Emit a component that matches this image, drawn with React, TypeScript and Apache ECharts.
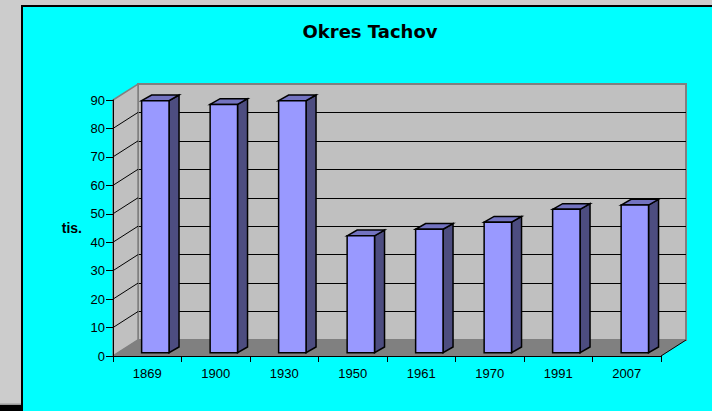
import React, { useEffect, useRef } from "react";
import * as echarts from "echarts";

// ---- data ----
const categories = ["1869", "1900", "1930", "1950", "1961", "1970", "1991", "2007"];
const population = [88.6, 87.3, 88.6, 41.1, 43.4, 45.9, 50.4, 51.9];
const yMin = 0;
const yMax = 90;
const yStep = 10;
const yTicks = [0, 10, 20, 30, 40, 50, 60, 70, 80, 90];
const titleText = "Okres Tachov";
const yName = "tis.";

// ---- layout / style ----
const W = 712;
const H = 411;
const FRONT = { left: 113, top: 100, width: 548, height: 256 };
const DX = 25; // wall depth
const DY = -16;
const BAR_LIFT = 3.3;
const BAR_DX = 10;
const BAR_DY = -5.7;
const FONT = "'Liberation Sans', Arial, sans-serif";

export default function App() {
  const ref = useRef<HTMLDivElement>(null);

  useEffect(() => {
    if (!ref.current) return;
    const chart = echarts.init(ref.current, undefined, { renderer: "svg" });

    const wallsRender = (params: any, api: any) => {
      const cs = params.coordSys;
      const x0 = cs.x;
      const x1 = cs.x + cs.width;
      const yT = cs.y;
      const yB = cs.y + cs.height;
      const children: any[] = [
        {
          type: "polygon",
          shape: { points: [[x0, yT], [x0 + DX, yT + DY], [x0 + DX, yB + DY], [x0, yB]] },
          style: { fill: "#c0c0c0", stroke: "#808080", lineWidth: 1.5 },
        },
        {
          type: "polygon",
          shape: { points: [[x0, yB], [x0 + DX, yB + DY], [x1 + DX, yB + DY], [x1, yB]] },
          style: { fill: "#808080", stroke: "#808080", lineWidth: 0.5 },
        },
        {
          type: "line",
          shape: { x1: x1, y1: yB, x2: x1 + DX, y2: yB + DY },
          style: { stroke: "#000", lineWidth: 1 },
        },
      ];
      yTicks.forEach((v) => {
        if (v === yMin || v === yMax) return;
        const y = api.coord([0, v])[1];
        children.push({
          type: "line",
          shape: { x1: x0, y1: y, x2: x0 + DX, y2: y + DY },
          style: { stroke: "#000", lineWidth: 1 },
        });
      });
      return { type: "group", children };
    };

    const barRender = (params: any, api: any) => {
      const i = api.value(0);
      const v = api.value(1);
      const b = api.coord([i, 0]);
      const t = api.coord([i, v]);
      const band = api.size([1, 0])[0];
      const w = band * 0.4;
      const cx = b[0] + band * 0.118;
      const xl = cx - w / 2;
      const xr = cx + w / 2;
      const yb = b[1] - BAR_LIFT;
      const yt = t[1] - BAR_LIFT;
      const stroke = { stroke: "#000", lineWidth: 1.5, lineJoin: "miter" };
      return {
        type: "group",
        children: [
          {
            type: "polygon",
            shape: { points: [[xr, yt], [xr + BAR_DX, yt + BAR_DY], [xr + BAR_DX, yb + BAR_DY], [xr, yb]] },
            style: { fill: "#4d4d80", ...stroke },
          },
          {
            type: "polygon",
            shape: { points: [[xl, yt], [xl + BAR_DX, yt + BAR_DY], [xr + BAR_DX, yt + BAR_DY], [xr, yt]] },
            style: { fill: "#7373c0", ...stroke },
          },
          {
            type: "polygon",
            shape: { points: [[xl, yt], [xr, yt], [xr, yb], [xl, yb]] },
            style: { fill: "#9999ff", ...stroke },
          },
        ],
      };
    };

    const option: any = {
      animation: false,
      backgroundColor: "#cccccc",
      title: {
        text: titleText,
        left: 370,
        top: 22,
        padding: 0,
        textAlign: "center",
        textStyle: { fontFamily: "'DejaVu Sans', sans-serif", fontWeight: "bold", fontSize: 18, color: "#000" },
      },
      graphic: {
        elements: [
          {
            type: "rect",
            z: -10,
            shape: { x: 22, y: 6, width: 700, height: 420 },
            style: { fill: "#00ffff", stroke: "#000", lineWidth: 2 },
          },
          {
            type: "rect",
            z: -10,
            shape: { x: 0, y: 405, width: 21, height: 6 },
            style: { fill: "#000" },
          },
          {
            type: "rect",
            z: -10,
            shape: { x: 0, y: 403.5, width: 21, height: 1.5 },
            style: { fill: "#999" },
          },
        ],
      },
      grid: [
        { left: FRONT.left, top: FRONT.top, width: FRONT.width, height: FRONT.height, show: false },
        {
          left: FRONT.left + DX,
          top: FRONT.top + DY,
          width: FRONT.width,
          height: FRONT.height,
          show: true,
          backgroundColor: "#c0c0c0",
          borderColor: "#808080",
          borderWidth: 2,
          z: -1,
        },
      ],
      xAxis: [
        {
          type: "category",
          gridIndex: 0,
          data: categories,
          boundaryGap: true,
          z: 5,
          axisLine: { show: true, lineStyle: { color: "#000", width: 1 } },
          axisTick: { show: true, interval: 0, alignWithLabel: false, length: 6, lineStyle: { color: "#000" } },
          axisLabel: { interval: 0, margin: 11, color: "#000", fontSize: 13, fontFamily: FONT },
          splitLine: { show: false },
        },
        {
          type: "category",
          gridIndex: 1,
          data: categories,
          show: false,
        },
      ],
      yAxis: [
        {
          type: "value",
          gridIndex: 0,
          min: yMin,
          max: yMax,
          interval: yStep,
          z: 5,
          name: yName,
          nameLocation: "middle",
          nameRotate: 0,
          nameGap: 31,
          nameTextStyle: { fontFamily: FONT, fontWeight: "bold", fontSize: 14, color: "#000" },
          axisLine: { show: true, lineStyle: { color: "#000", width: 1 } },
          axisTick: { show: true, length: 7, lineStyle: { color: "#000" } },
          axisLabel: { margin: 8, color: "#000", fontSize: 13, fontFamily: FONT },
          splitLine: { show: false },
        },
        {
          type: "value",
          gridIndex: 1,
          min: yMin,
          max: yMax,
          interval: yStep,
          z: 0,
          axisLine: { show: false },
          axisTick: { show: false },
          axisLabel: { show: false },
          splitLine: { show: true, showMinLine: false, showMaxLine: false, lineStyle: { color: "#000", width: 1 } },
        },
      ],
      series: [
        {
          type: "custom",
          name: "walls",
          xAxisIndex: 0,
          yAxisIndex: 0,
          z: 1,
          silent: true,
          data: [[0, 0]],
          renderItem: wallsRender,
          clip: false,
        },
        {
          type: "custom",
          name: "population",
          xAxisIndex: 0,
          yAxisIndex: 0,
          z: 3,
          data: population.map((v, i) => [i, v]),
          encode: { x: 0, y: 1 },
          renderItem: barRender,
          clip: false,
        },
      ],
    };

    chart.setOption(option);
    return () => chart.dispose();
  }, []);

  return (
    <div
      ref={ref}
      style={{ position: "fixed", left: 0, top: 0, width: W, height: H }}
    />
  );
}
